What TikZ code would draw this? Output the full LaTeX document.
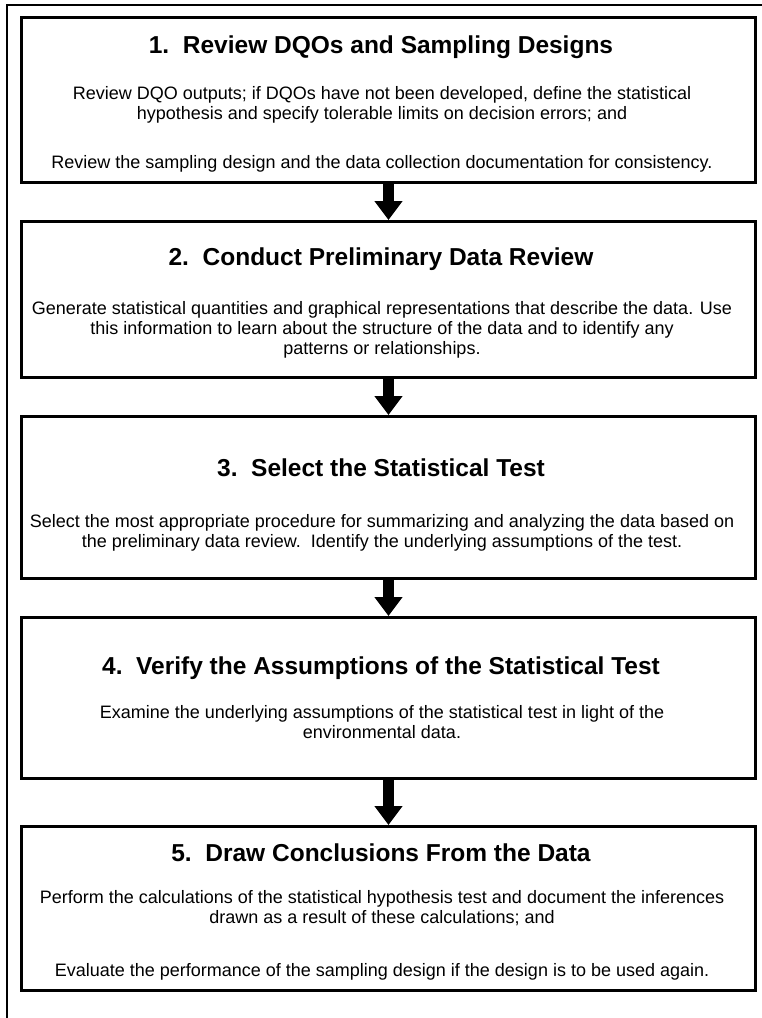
\documentclass[tikz,border=0pt]{standalone}
\usepackage{fontspec}
\setmainfont{Liberation Sans}
\usetikzlibrary{arrows.meta, positioning}

\tikzset{
  stepbox/.style={draw, line width=3pt, rectangle, minimum width=734pt, inner sep=0pt},
  steptitle/.style={font=\fontsize{24.5}{28}\selectfont\bfseries, anchor=base, inner sep=0pt},
  steptext/.style={font=\fontsize{18}{20.3}\selectfont, align=center, anchor=north, inner sep=0pt},
  flow/.style={line width=11pt, -{Triangle[length=19pt, width=27pt]}}
}

\begin{document}
\begin{tikzpicture}[x=1pt, y=-1pt]
  \useasboundingbox (0,0) rectangle (761,1018);
  \draw[line width=2.5pt] (7,1040) -- (7,5) -- (790,5);

  % the five steps
  \node[stepbox, minimum height=165pt] (review) at (388.5,100) {};
  \node[stepbox, minimum height=156pt] (prelim) at (388.5,299.5) {};
  \node[stepbox, minimum height=162pt] (select) at (388.5,497.5) {};
  \node[stepbox, minimum height=161pt] (verify) at (388.5,698) {};
  \node[stepbox, minimum height=164pt] (conclude) at (388.5,908.5) {};

  \node[steptitle] (review-t) at (381,53) {1.\ \ Review DQOs and Sampling Designs};
  \node[steptext] (review-a) at (382,86) {Review DQO outputs; if DQOs have not been developed, define the statistical\\hypothesis and specify tolerable limits on decision errors; and};
  \node[steptext] (review-b) at (382,155) {Review the sampling design and the data collection documentation for consistency.};

  \node[steptitle] (prelim-t) at (381,265) {2.\ \ Conduct Preliminary Data Review};
  \node[steptext] (prelim-a) at (382,301) {Generate statistical quantities and graphical representations that describe the data. Use\\this information to learn about the structure of the data and to identify any\\patterns or relationships.};

  \node[steptitle] (select-t) at (381,476) {3.\ \ Select the Statistical Test};
  \node[steptext] (select-a) at (382,514) {Select the most appropriate procedure for summarizing and analyzing the data based on\\the preliminary data review.\ \ Identify the underlying assumptions of the test.};

  \node[steptitle] (verify-t) at (381,674) {4.\ \ Verify the Assumptions of the Statistical Test};
  \node[steptext] (verify-a) at (382,705) {Examine the underlying assumptions of the statistical test in light of the\\environmental data.};

  \node[steptitle] (conclude-t) at (381,861) {5.\ \ Draw Conclusions From the Data};
  \node[steptext] (conclude-a) at (382,890) {Perform the calculations of the statistical hypothesis test and document the inferences\\drawn as a result of these calculations; and};
  \node[steptext] (conclude-b) at (382,963) {Evaluate the performance of the sampling design if the design is to be used again.};

  % arrows between steps
  \draw[flow] (review) -- (prelim);
  \draw[flow] (prelim) -- (select);
  \draw[flow] (select) -- (verify);
  \draw[flow] (verify) -- (conclude);
\end{tikzpicture}
\end{document}
